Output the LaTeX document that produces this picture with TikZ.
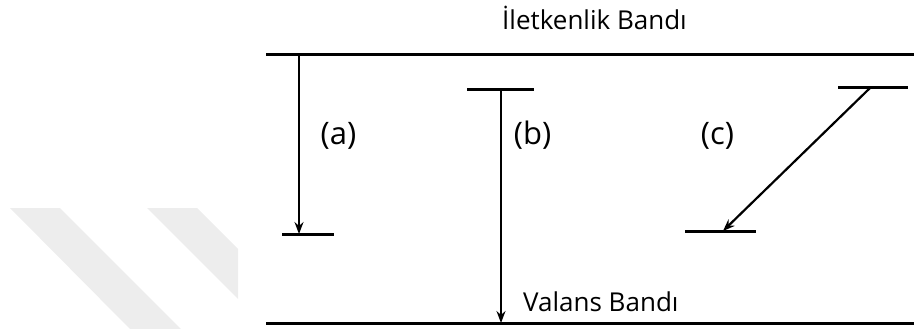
\documentclass[tikz,border=0pt]{standalone}
\usepackage{fontspec}
\setmainfont{Open Sans}
\usetikzlibrary{arrows.meta}
\begin{document}
\begin{tikzpicture}[x=1pt,y=-1pt,
  band/.style={line width=3pt},
  level/.style={line width=3pt},
  trans/.style={line width=1.8pt,-{Stealth[length=12pt,width=9pt,inset=4pt]}},
  bandlabel/.style={font=\fontsize{26}{29}\selectfont,inner sep=0pt},
  caselabel/.style={font=\fontsize{31}{34}\selectfont,inner sep=0pt},
  stripe/.style={fill=black!7,draw=none}]
\useasboundingbox (0,0) rectangle (914,329);

% faint diagonal stripes in the lower left
\fill[stripe] (10,208) -- (60,208) -- (181,329) -- (130,329) -- cycle;
\fill[stripe] (147,208) -- (197,208) -- (238,249) -- (238,299) -- cycle;

% conduction and valence bands
\coordinate (cbL) at (266,55);
\coordinate (cbR) at (914,55);
\coordinate (vbL) at (266,323);
\coordinate (vbR) at (914,323);
\draw[band] (cbL) -- (cbR);
\draw[band] (vbL) -- (vbR);

% localized levels
\coordinate (aL) at (282,234);  \coordinate (aR) at (334,234);
\coordinate (bL) at (467,90);   \coordinate (bR) at (534,90);
\coordinate (cTL) at (838,88);  \coordinate (cTR) at (908,88);
\coordinate (cBL) at (685,231); \coordinate (cBR) at (756,231);
\draw[level] (aL) -- (aR);
\draw[level] (bL) -- (bR);
\draw[level] (cTL) -- (cTR);
\draw[level] (cBL) -- (cBR);

% transitions
\coordinate (aTop) at (299,55);  \coordinate (aBot) at (299,234);
\coordinate (bTop) at (501,90);  \coordinate (bBot) at (501,323);
\coordinate (cTop) at (870,88);  \coordinate (cBot) at (723,231);
\draw[trans] (aTop) -- (aBot);
\draw[trans] (bTop) -- (bBot);
\draw[trans,line width=2.2pt] (cTop) -- (cBot);

% labels
\node[bandlabel,anchor=base] (cbText) at (594.5,29.5) {İletkenlik Bandı};
\node[bandlabel,anchor=base west] (vbText) at (523,311.5) {Valans Bandı};
\node[caselabel,anchor=base] (la) at (338.5,145) {(a)};
\node[caselabel,anchor=base] (lb) at (532.5,145) {(b)};
\node[caselabel,anchor=base] (lc) at (717.5,145) {(c)};
\end{tikzpicture}
\end{document}
